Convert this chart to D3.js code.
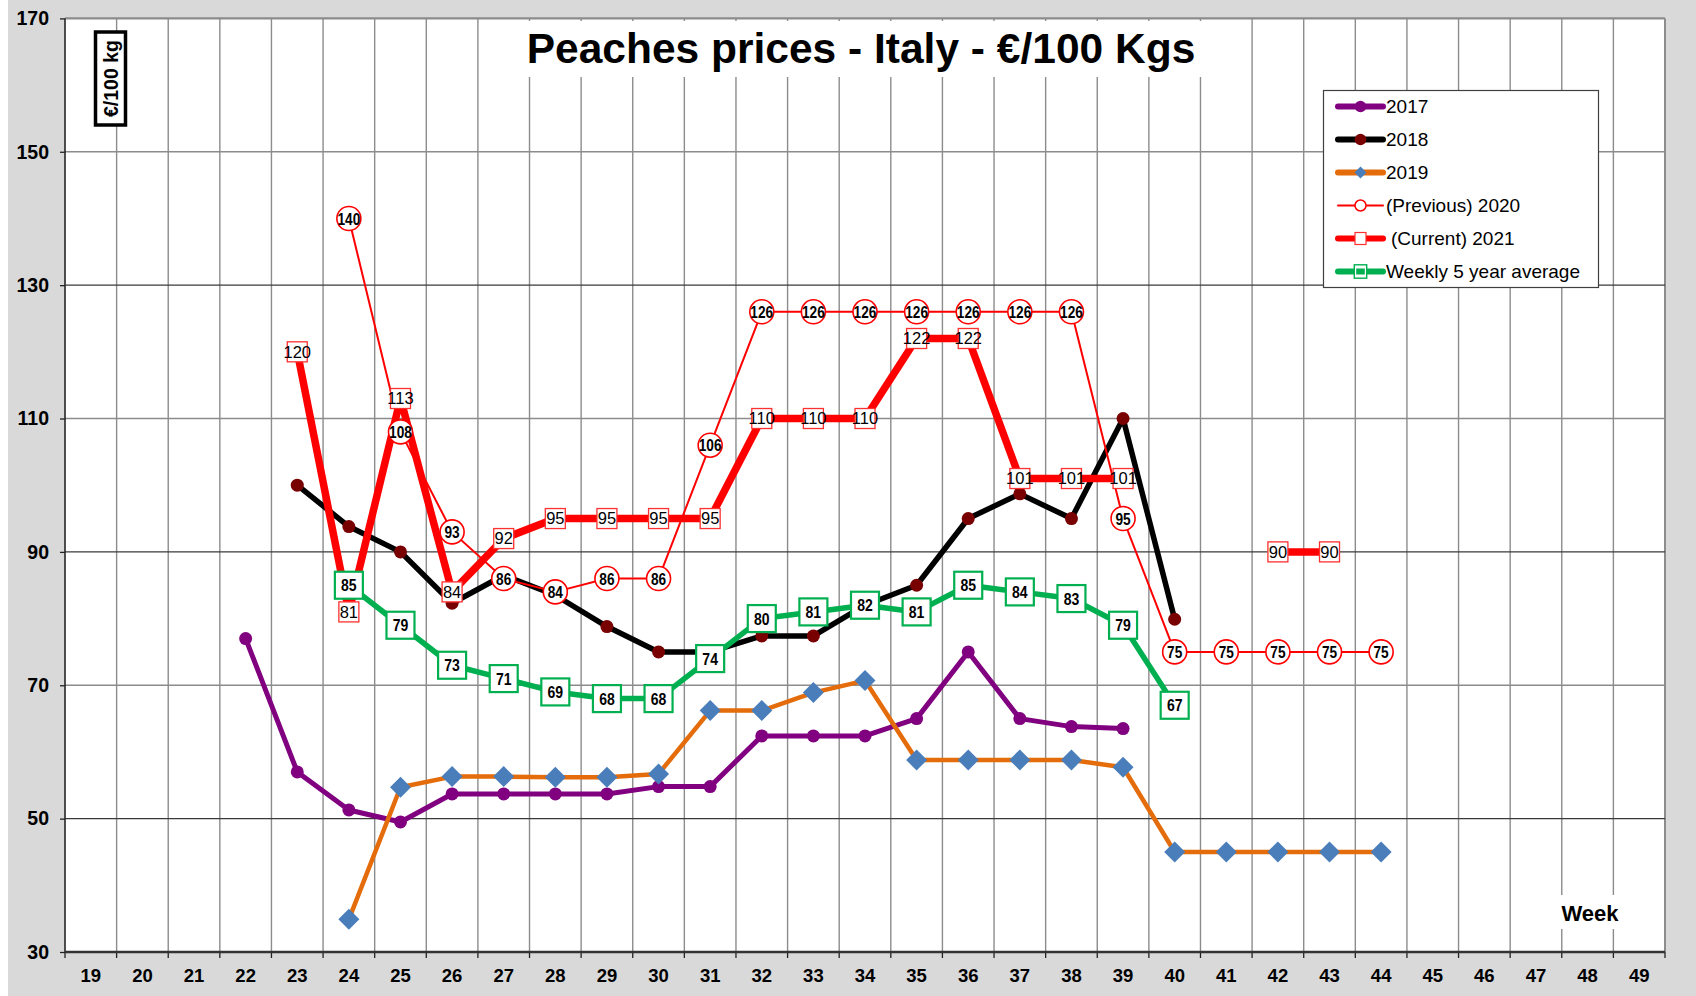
<!DOCTYPE html>
<html><head><meta charset="utf-8">
<script src="https://cdn.jsdelivr.net/npm/d3@7"></script>
<style>
html,body{margin:0;padding:0;background:#fff;}
svg{display:block;}
text{font-family:"Liberation Sans", Arial, Helvetica, sans-serif;}
</style></head><body>
<svg id="chart" width="1696" height="996"></svg>
<script>
// ---------- DATA ----------
const weeks = [19,20,21,22,23,24,25,26,27,28,29,30,31,32,33,34,35,36,37,38,39,40,41,42,43,44,45,46,47,48,49];
const yTicks = [30,50,70,90,110,130,150,170];
const v2017 = [null,null,null,77,57,51.3,49.5,53.7,53.7,53.7,53.7,54.8,54.8,62.4,62.4,62.4,65,75,65,63.8,63.5,null,null,null,null,null,null,null,null,null,null];
const v2018 = [null,null,null,null,100,93.8,90,82.3,86.5,83.5,78.8,75,75,77.4,77.4,82,85,95,98.7,95,110,79.9,null,null,null,null,null,null,null,null,null];
const v2019 = [null,null,null,null,null,34.9,54.7,56.3,56.3,56.2,56.2,56.7,66.2,66.2,68.9,70.7,58.8,58.8,58.8,58.8,57.7,45,45,45,45,45,null,null,null,null,null];
const v2020 = [null,null,null,null,null,140,108,93,86,84,86,86,106,126,126,126,126,126,126,126,95,75,75,75,75,75,null,null,null,null,null];
const v2021 = [null,null,null,null,120,81,113,84,92,95,95,95,95,110,110,110,122,122,101,101,101,null,null,90,90,null,null,null,null,null,null];
const v5yr  = [null,null,null,null,null,85,79,73,71,69,68,68,74,80,81,82,81,85,84,83,79,67,null,null,null,null,null,null,null,null,null];
const seriesNames = ["2017","2018","2019","(Previous) 2020","(Current) 2021","Weekly 5 year average"];
const titleText = "Peaches prices - Italy - €/100 Kgs";
const unitText = "€/100 kg";
const xTitle = "Week";

// ---------- SETUP ----------
const W = 1696, H = 996;
const svg = d3.select("#chart");
const M = {l:65, r:1665, t:18.4, b:952};

svg.append("rect").attr("width",W).attr("height",H).attr("fill","#ffffff");
svg.append("rect").attr("x",8).attr("y",0).attr("width",W-8).attr("height",H).attr("fill","#d9d9d9");
svg.append("rect").attr("x",M.l).attr("y",M.t).attr("width",M.r-M.l).attr("height",M.b-M.t).attr("fill","#ffffff");

const x = d3.scaleBand().domain(weeks).range([M.l, M.r]).padding(0);
const y = d3.scaleLinear().domain([30,170]).range([M.b, M.t]);
const cx = w => x(w) + x.bandwidth()/2;

// ---------- GRID ----------
const grid = svg.append("g");
grid.selectAll("line.v").data(weeks.slice(1)).join("line")
  .attr("x1", d => x(d)).attr("x2", d => x(d))
  .attr("y1", M.t).attr("y2", M.b)
  .attr("stroke", "#8c8c8c").attr("stroke-width", 1.4);
grid.append("line").attr("x1", M.r).attr("x2", M.r).attr("y1", M.t).attr("y2", M.b)
  .attr("stroke", "#8c8c8c").attr("stroke-width", 2);
grid.selectAll("line.h").data(yTicks.slice(1)).join("line")
  .attr("x1", M.l).attr("x2", M.r)
  .attr("y1", d => y(d)).attr("y2", d => y(d))
  .attr("stroke", (d,i) => (i % 2 === 0) ? "#3a3a3a" : "#8c8c8c")
  .attr("stroke-width", (d,i) => (i % 2 === 0) ? 1.2 : 1.6);
grid.append("line").attr("x1", M.l).attr("x2", M.r).attr("y1", M.t).attr("y2", M.t)
  .attr("stroke", "#8c8c8c").attr("stroke-width", 2);

// title background + title
svg.append("rect").attr("x",515).attr("y",21).attr("width",690).attr("height",56).attr("fill","#fff");
svg.append("text").attr("x",861).attr("y",63).attr("text-anchor","middle")
  .attr("font-size",42.5).attr("font-weight","bold").attr("fill","#000").text(titleText);

// week label
svg.append("rect").attr("x",1557).attr("y",895).attr("width",66).attr("height",34).attr("fill","#fff");
svg.append("text").attr("x",1590).attr("y",921).attr("text-anchor","middle")
  .attr("font-size",22).attr("font-weight","bold").attr("fill","#000").text(xTitle);

// unit label box
svg.append("rect").attr("x",95.5).attr("y",32).attr("width",30).attr("height",93)
  .attr("fill","#fff").attr("stroke","#000").attr("stroke-width",3.5);
svg.append("text").attr("transform","translate(110.5,78.5) rotate(-90)")
  .attr("text-anchor","middle").attr("dy","0.36em")
  .attr("font-size",19.5).attr("font-weight","bold").attr("fill","#000").text(unitText);

// ---------- AXES ----------
const xAxisG = svg.append("g").attr("transform",`translate(0,${M.b})`)
  .call(d3.axisBottom(x).tickSize(0).tickPadding(17));
xAxisG.select(".domain").remove();
xAxisG.selectAll("text").attr("font-size",18.5).attr("font-weight","bold").attr("fill","#000")
  .attr("font-family","Liberation Sans, Arial, sans-serif");
svg.append("g").selectAll("line").data(weeks.map(w => x(w)).concat([M.r])).join("line")
  .attr("x1", d => d).attr("x2", d => d).attr("y1", M.b).attr("y2", M.b+6)
  .attr("stroke","#222").attr("stroke-width",1.3);

const yAxisG = svg.append("g").attr("transform",`translate(${M.l},0)`)
  .call(d3.axisLeft(y).tickValues(yTicks).tickSize(5).tickPadding(11).tickFormat(d3.format("d")));
yAxisG.select(".domain").remove();
yAxisG.selectAll(".tick line").attr("stroke","#222").attr("stroke-width",1.3);
yAxisG.selectAll("text").attr("font-size",19.5).attr("font-weight","bold").attr("fill","#000")
  .attr("font-family","Liberation Sans, Arial, sans-serif");

svg.append("line").attr("x1",M.l).attr("x2",M.l).attr("y1",M.t).attr("y2",M.b)
  .attr("stroke","#262626").attr("stroke-width",1.6);
svg.append("line").attr("x1",M.l).attr("x2",M.r).attr("y1",M.b).attr("y2",M.b)
  .attr("stroke","#333").attr("stroke-width",2.6);

// ---------- SERIES ----------
const allVals = [v2017, v2018, v2019, v2020, v2021, v5yr];
const styles = [
  {color:"#800080", width:5,   marker:"circle",  mcolor:"#800080", r:6.5},
  {color:"#000000", width:5.5, marker:"circle",  mcolor:"#790000", r:6.5},
  {color:"#e46c0a", width:4.5, marker:"diamond", mcolor:"#4a7ebb", r:10.5},
  {color:"#ff0000", width:2,   marker:"none"},
  {color:"#ff0000", width:7.5, marker:"none"},
  {color:"#00b050", width:5.5, marker:"none"}
];
const pts = vals => weeks.map((w,i) => ({w, v: vals[i]}));
const line = d3.line().defined(d => d.v != null).x(d => cx(d.w)).y(d => y(d.v));
const diamond = d3.symbol().type(d3.symbolSquare).size(2 * 10.5 * 10.5);

const plot = svg.append("g");
allVals.forEach((vals, si) => {
  const st = styles[si];
  const g = plot.append("g");
  g.append("path").datum(pts(vals)).attr("d", line).attr("fill","none")
    .attr("stroke", st.color).attr("stroke-width", st.width)
    .attr("stroke-linejoin","round").attr("stroke-linecap","round");
  const dp = pts(vals).filter(d => d.v != null);
  if (st.marker === "circle") {
    g.selectAll("circle").data(dp).join("circle")
      .attr("cx", d => cx(d.w)).attr("cy", d => y(d.v)).attr("r", st.r).attr("fill", st.mcolor);
  } else if (st.marker === "diamond") {
    g.selectAll("path.m").data(dp).join("path").attr("class","m")
      .attr("d", diamond)
      .attr("transform", d => `translate(${cx(d.w)},${y(d.v)}) rotate(45)`)
      .attr("fill", st.mcolor);
  }
});

// ---------- DATA LABELS ----------
const fmt = d3.format(".0f");
const g20 = svg.append("g");
const p20 = pts(v2020).filter(d => d.v != null);
g20.selectAll("circle").data(p20).join("circle")
  .attr("cx", d => cx(d.w)).attr("cy", d => y(d.v)).attr("r", 12)
  .attr("fill","#fff").attr("stroke","#ff0000").attr("stroke-width",1.6);
g20.selectAll("text").data(p20).join("text")
  .attr("x", d => cx(d.w)).attr("y", d => y(d.v)).attr("dy","0.36em")
  .attr("text-anchor","middle").attr("font-size",17).attr("font-weight","bold")
  .attr("textLength", d => fmt(d.v).length * 7.6).attr("lengthAdjust","spacingAndGlyphs")
  .text(d => fmt(d.v));

const g21 = svg.append("g");
const p21 = pts(v2021).filter(d => d.v != null);
g21.selectAll("rect").data(p21).join("rect")
  .attr("x", d => cx(d.w) - 10).attr("y", d => y(d.v) - 10).attr("width", 20).attr("height", 20)
  .attr("fill","#fff").attr("stroke","#ff3030").attr("stroke-width",1.3);
g21.selectAll("text").data(p21).join("text")
  .attr("x", d => cx(d.w)).attr("y", d => y(d.v)).attr("dy","0.36em")
  .attr("text-anchor","middle").attr("font-size",16.5)
  .text(d => fmt(d.v));

const g5 = svg.append("g");
const p5 = pts(v5yr).filter(d => d.v != null);
g5.selectAll("rect").data(p5).join("rect")
  .attr("x", d => cx(d.w) - 14).attr("y", d => y(d.v) - 13.5).attr("width", 28).attr("height", 27)
  .attr("fill","#fff").attr("stroke","#00b050").attr("stroke-width",2.2);
g5.selectAll("text").data(p5).join("text")
  .attr("x", d => cx(d.w)).attr("y", d => y(d.v)).attr("dy","0.36em")
  .attr("text-anchor","middle").attr("font-size",17).attr("font-weight","bold")
  .attr("textLength", d => fmt(d.v).length * 7.8).attr("lengthAdjust","spacingAndGlyphs")
  .text(d => fmt(d.v));

// ---------- LEGEND ----------
const lg = svg.append("g");
lg.append("rect").attr("x",1323.5).attr("y",90.5).attr("width",275).attr("height",197)
  .attr("fill","#fff").attr("stroke","#404040").attr("stroke-width",1.2);
const ly0 = 106.5, lstep = 33, lx1 = 1338, lx2 = 1383, lmx = 1360.5;
seriesNames.forEach((name, i) => {
  const st = styles[i];
  const yy = ly0 + i*lstep;
  lg.append("line").attr("x1",lx1).attr("x2",lx2).attr("y1",yy).attr("y2",yy)
    .attr("stroke",st.color).attr("stroke-width", i===3 ? 2 : 6).attr("stroke-linecap","round");
  if (i === 0 || i === 1) {
    lg.append("circle").attr("cx",lmx).attr("cy",yy).attr("r",5.8).attr("fill",st.mcolor);
  } else if (i === 2) {
    lg.append("path").attr("d", d3.symbol().type(d3.symbolSquare).size(2*6*6))
      .attr("transform",`translate(${lmx},${yy}) rotate(45)`).attr("fill",st.mcolor);
  } else if (i === 3) {
    lg.append("circle").attr("cx",lmx).attr("cy",yy).attr("r",5.5)
      .attr("fill","#fff").attr("stroke","#ff0000").attr("stroke-width",1.5);
  } else if (i === 4) {
    lg.append("rect").attr("x",lmx-5.5).attr("y",yy-6).attr("width",11).attr("height",12)
      .attr("fill","#fff").attr("stroke","#ff3030").attr("stroke-width",1.2);
  } else {
    lg.append("rect").attr("x",lmx-5).attr("y",yy-5.5).attr("width",10).attr("height",11)
      .attr("fill","none").attr("stroke","#ffffff").attr("stroke-width",1.4);
    lg.append("rect").attr("x",lmx-6.2).attr("y",yy-6.7).attr("width",12.4).attr("height",13.4)
      .attr("fill","none").attr("stroke","#00b050").attr("stroke-width",1.4);
  }
  lg.append("text").attr("x", i === 4 ? 1391 : 1386).attr("y", yy).attr("dy","0.36em")
    .attr("font-size",19).attr("fill","#000").text(name);
});
</script>
</body></html>
